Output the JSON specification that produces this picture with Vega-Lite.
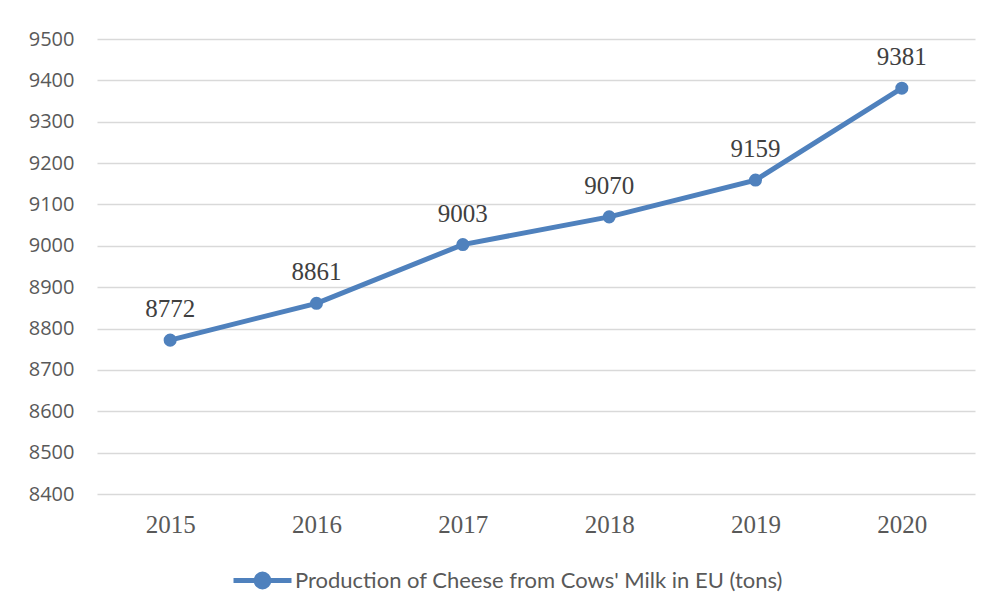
{
  "$schema": "https://vega.github.io/schema/vega-lite/v6.json",
  "width": 878,
  "height": 455,
  "autosize": {"type": "none"},
  "padding": {"left": 97, "top": 39, "right": 17, "bottom": 115},
  "background": "white",
  "config": {"view": {"stroke": null}},
  "data": {
    "values": [
      {"year": "2015", "value": 8772, "series": "Production of Cheese from Cows' Milk in EU (tons)"},
      {"year": "2016", "value": 8861, "series": "Production of Cheese from Cows' Milk in EU (tons)"},
      {"year": "2017", "value": 9003, "series": "Production of Cheese from Cows' Milk in EU (tons)"},
      {"year": "2018", "value": 9070, "series": "Production of Cheese from Cows' Milk in EU (tons)"},
      {"year": "2019", "value": 9159, "series": "Production of Cheese from Cows' Milk in EU (tons)"},
      {"year": "2020", "value": 9381, "series": "Production of Cheese from Cows' Milk in EU (tons)"}
    ]
  },
  "encoding": {
    "x": {
      "field": "year", "type": "ordinal",
      "scale": {"type": "point", "padding": 0.5},
      "axis": {
        "title": null, "labelAngle": 0, "ticks": false, "domain": false, "grid": false,
        "labelFont": "Liberation Serif", "labelFontSize": 25, "labelColor": "#595959",
        "labelPadding": 18
      }
    },
    "y": {
      "field": "value", "type": "quantitative",
      "scale": {"domain": [8400, 9500], "nice": false, "zero": false},
      "axis": {
        "title": null, "values": [8400, 8500, 8600, 8700, 8800, 8900, 9000, 9100, 9200, 9300, 9400, 9500],
        "ticks": false, "domain": false, "format": "d",
        "labelFont": "Open Sans", "labelFontSize": 20, "labelColor": "#595959", "labelPadding": 23,
        "gridColor": "#d9d9d9", "gridWidth": 1.5
      }
    }
  },
  "layer": [
    {
      "mark": {"type": "line", "strokeWidth": 5, "point": {"filled": true, "size": 170, "opacity": 1}},
      "encoding": {
        "color": {
          "field": "series", "type": "nominal",
          "scale": {"range": ["#4F81BD"]},
          "legend": {
            "title": null, "orient": "none", "legendX": 134, "legendY": 510, "padding": 0,
            "symbolType": "M-1,0L1,0M0.22,0A0.22,0.22,0,1,1,-0.22,0A0.22,0.22,0,1,1,0.22,0Z",
            "symbolSize": 3364, "symbolStrokeWidth": 5, "symbolFillColor": "#4F81BD",
            "symbolStrokeColor": "#4F81BD", "symbolOpacity": 1,
            "labelFont": "Lato", "labelFontSize": 22, "labelColor": "#595959", "labelOffset": 1,
            "labelLimit": 800
          }
        }
      }
    },
    {
      "mark": {"type": "text", "font": "Liberation Serif", "fontSize": 25, "color": "#404040", "baseline": "alphabetic", "dy": -23},
      "encoding": {"text": {"field": "value", "type": "quantitative", "format": "d"}}
    }
  ]
}
